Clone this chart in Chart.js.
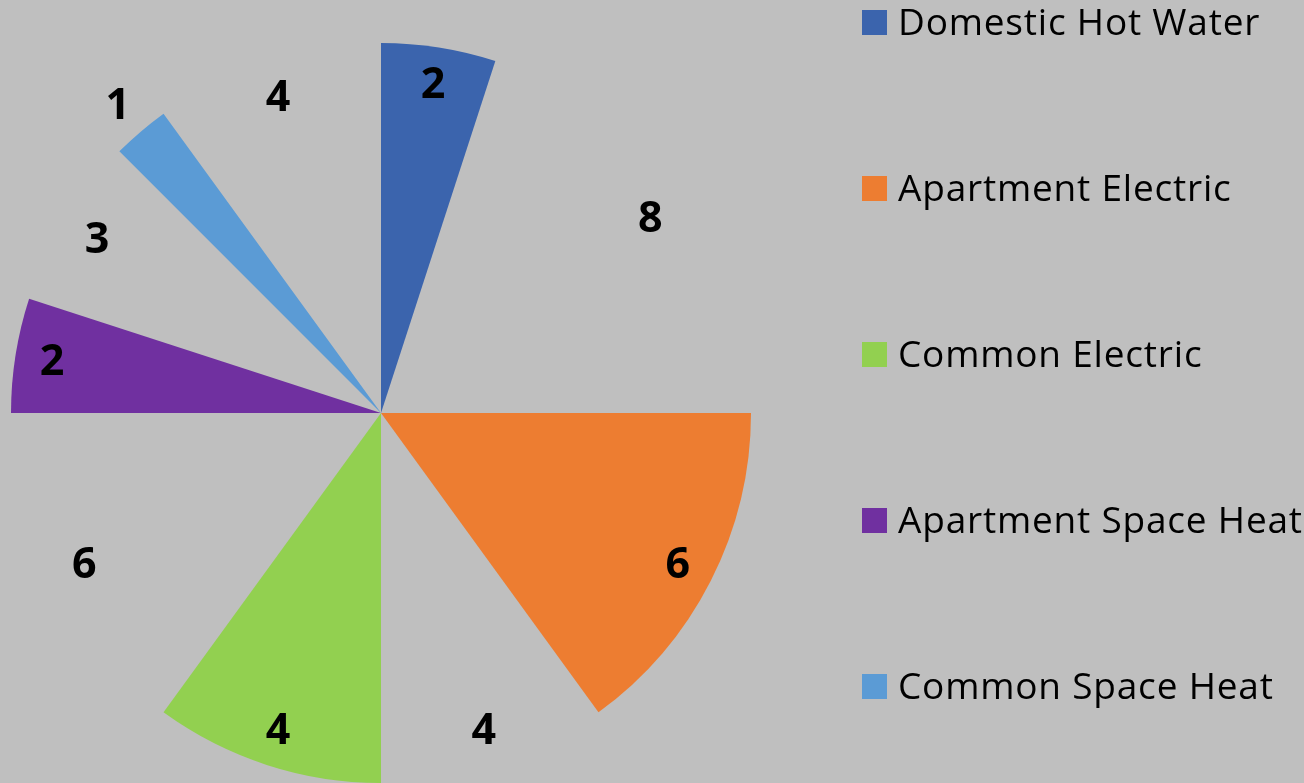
<!DOCTYPE html>
<html>
<head>
<meta charset="utf-8">
<script src="https://cdn.jsdelivr.net/npm/chart.js@4.4.0/dist/chart.umd.min.js"></script>
<style>
  html, body { margin: 0; padding: 0; background: #BFBFBF; }
  #wrap { width: 1304px; height: 783px; position: relative; }
</style>
</head>
<body>
<div id="wrap"><canvas id="c" width="1304" height="783"></canvas></div>
<script>
// ---- data ----
const seriesNames = ['Domestic Hot Water', 'Apartment Electric', 'Common Electric', 'Apartment Space Heat', 'Common Space Heat'];
const seriesValues = [2, 6, 4, 2, 1];
const gapValues = [8, 4, 6, 3, 4];
const seriesColors = ['#3B64AD', '#ED7D31', '#92D050', '#7030A0', '#5B9BD5'];

// interleave series with transparent gaps
const labels = [], values = [], colors = [], isGap = [];
seriesNames.forEach((n, i) => {
  labels.push(n); values.push(seriesValues[i]); colors.push(seriesColors[i]); isGap.push(false);
  labels.push(''); values.push(gapValues[i]); colors.push('rgba(0,0,0,0)'); isGap.push(true);
});

const labelPlugin = {
  id: 'valueLabels',
  afterDatasetsDraw(chart) {
    const ctx = chart.ctx;
    const meta = chart.getDatasetMeta(0);
    const data = chart.data.datasets[0].data;
    ctx.save();
    ctx.font = 'bold 43px "Open Sans"';
    ctx.fillStyle = '#000';
    ctx.textAlign = 'center';
    ctx.textBaseline = 'middle';
    meta.data.forEach((arc, i) => {
      const p = arc.getProps(['x', 'y', 'startAngle', 'endAngle', 'outerRadius'], true);
      const mid = (p.startAngle + p.endAngle) / 2;
      const f = data[i] <= 1 ? 1.095 : 0.9;
      const r = p.outerRadius * f;
      ctx.fillText(String(data[i]), p.x + Math.cos(mid) * r, p.y + Math.sin(mid) * r + 2);
    });
    ctx.restore();
  }
};

const legendPlugin = {
  id: 'customLegend',
  afterDraw(chart) {
    const ctx = chart.ctx;
    const ds = chart.data.datasets[0];
    ctx.save();
    ctx.font = '37px "Open Sans"';
    ctx.letterSpacing = '0.8px';
    ctx.textAlign = 'left';
    ctx.textBaseline = 'middle';
    let k = 0;
    chart.data.labels.forEach((lab, i) => {
      if (isGap[i]) return;
      const cy = 22.5 + k * 166;
      ctx.fillStyle = ds.backgroundColor[i];
      ctx.fillRect(862, cy - 12.5, 25, 25);
      ctx.fillStyle = '#000';
      ctx.fillText(lab, 898, cy + 2);
      k++;
    });
    ctx.restore();
  }
};

new Chart(document.getElementById('c'), {
  type: 'pie',
  data: {
    labels: labels,
    datasets: [{
      data: values,
      backgroundColor: colors,
      borderWidth: 0,
      hoverOffset: 0
    }]
  },
  options: {
    responsive: false,
    animation: false,
    layout: { padding: { left: 11, top: 43, right: 553, bottom: 0 } },
    plugins: { legend: { display: false }, tooltip: { enabled: false } }
  },
  plugins: [labelPlugin, legendPlugin]
});
</script>
</body>
</html>
